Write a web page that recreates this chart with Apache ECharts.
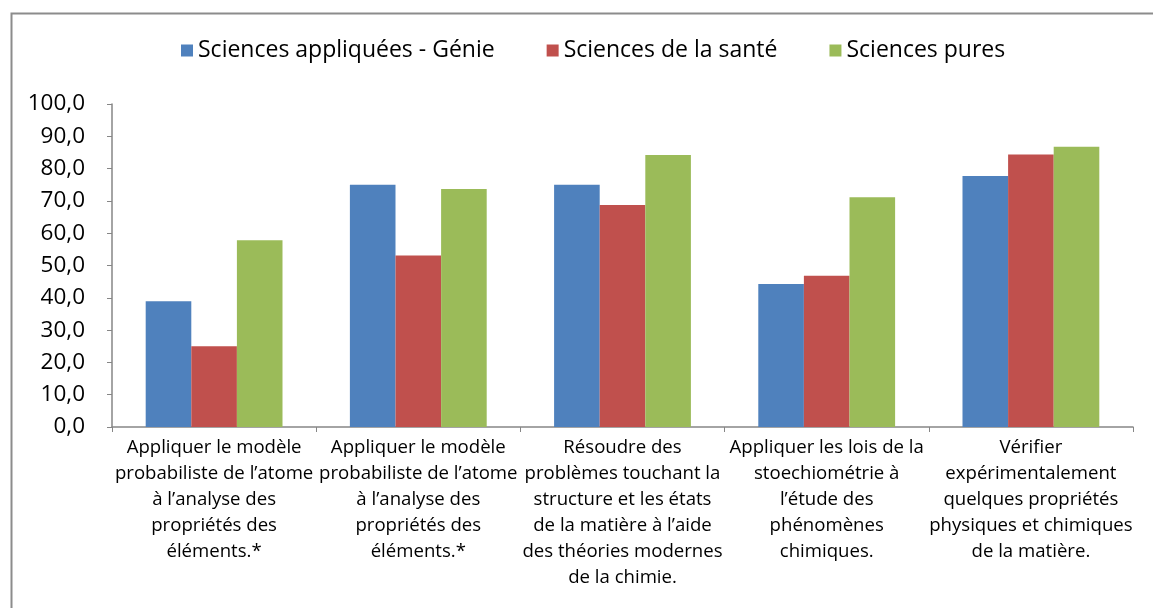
<!DOCTYPE html>
<html><head><meta charset="utf-8">
<script src="https://cdn.jsdelivr.net/npm/echarts@6/dist/echarts.min.js"></script>
<style>html,body{margin:0;padding:0;background:#fff}#c{width:1153px;height:608px}</style>
</head><body><div id="c"></div>
<script>
const categories = [
  "Appliquer le modèle\nprobabiliste de l’atome\nà l’analyse des\npropriétés des\néléments.*",
  "Appliquer le modèle\nprobabiliste de l’atome\nà l’analyse des\npropriétés des\néléments.*",
  "Résoudre des\nproblèmes touchant la\nstructure et les états\nde la matière à l’aide\ndes théories modernes\nde la chimie.",
  "Appliquer les lois de la\nstoechiométrie à\nl’étude des\nphénomènes\nchimiques.",
  "Vérifier\nexpérimentalement\nquelques propriétés\nphysiques et chimiques\nde la matière."
];
const seriesNames = ["Sciences appliquées - Génie", "Sciences de la santé", "Sciences pures"];
const genie = [38.9, 75.0, 75.0, 44.3, 77.7];
const sante = [25.0, 53.1, 68.7, 46.8, 84.4];
const pures = [57.8, 73.7, 84.2, 71.1, 86.8];
const colors = ["#4F81BD", "#C0504D", "#9BBB59"];
const FONT = '"Open Sans", "Liberation Sans", Arial, sans-serif';

const chart = echarts.init(document.getElementById('c'), null, {renderer: 'canvas'});
const dataSets = [genie, sante, pures];
chart.setOption({
  animation: false,
  color: colors,
  textStyle: {fontFamily: FONT},
  graphic: [{
    type: 'rect', left: 9, top: 11,
    shape: {width: 1170, height: 620},
    style: {fill: 'none', stroke: '#8c8c8c', lineWidth: 2}, silent: true
  }],
  legend: {
    top: 34, left: 176,
    itemWidth: 12, itemHeight: 12, itemGap: 52,
    icon: 'rect',
    textStyle: {fontSize: 23, color: '#000', fontFamily: FONT},
    data: seriesNames
  },
  grid: {left: 112, right: 20, top: 104, bottom: 181, containLabel: false},
  xAxis: {
    type: 'category', data: categories,
    axisLine: {lineStyle: {color: '#868686', width: 1.5}},
    axisTick: {show: true, length: 5, lineStyle: {color: '#868686'}, alignWithLabel: false},
    axisLabel: {interval: 0, fontSize: 18.6, lineHeight: 26, color: '#000', margin: 8, fontFamily: FONT}
  },
  yAxis: {
    type: 'value', min: 0, max: 100, interval: 10,
    axisLine: {show: true, lineStyle: {color: '#868686', width: 1.5}},
    axisTick: {show: true, length: 5, lineStyle: {color: '#868686'}},
    splitLine: {show: false},
    axisLabel: {fontSize: 22.5, color: '#000', margin: 27, fontFamily: FONT,
      formatter: v => v.toFixed(1).replace('.', ',')}
  },
  series: seriesNames.map((n, i) => ({
    name: n, type: 'bar', data: dataSets[i],
    barGap: '0%', barCategoryGap: '33%',
    itemStyle: {color: colors[i]}
  }))
});
</script></body></html>
